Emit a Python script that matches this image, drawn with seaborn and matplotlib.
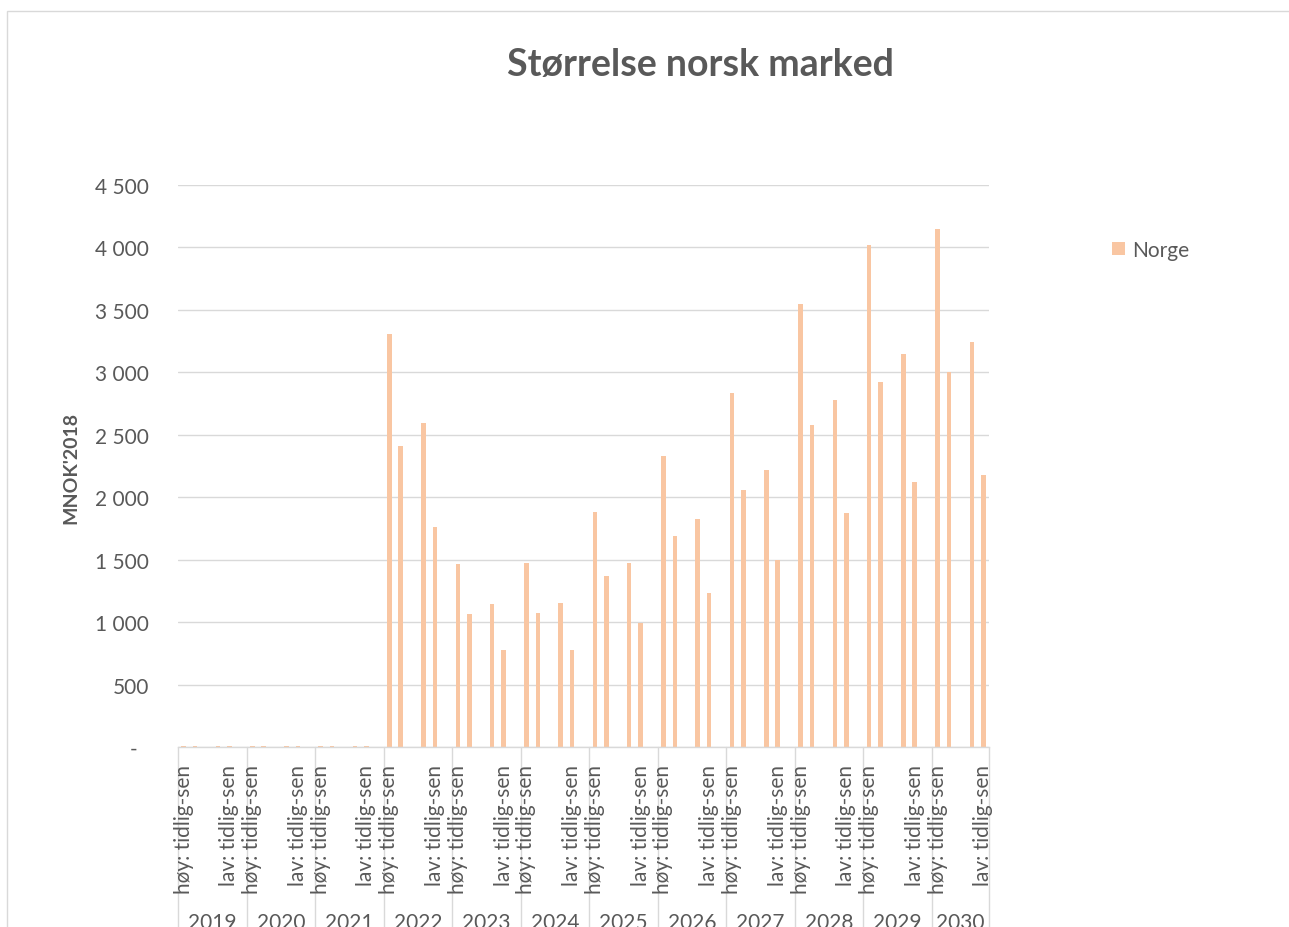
import matplotlib
matplotlib.use("Agg")
import matplotlib.pyplot as plt
from matplotlib.patches import Rectangle
from matplotlib.ticker import FuncFormatter
import numpy as np
import pandas as pd
import seaborn as sns

# Market size per year, MNOK (2018 kroner)
years = ["2019", "2020", "2021", "2022", "2023", "2024",
         "2025", "2026", "2027", "2028", "2029", "2030"]
hoy_tidlig = [8, 8, 8, 3310, 1465, 1470, 1885, 2330, 2835, 3545, 4020, 4145]
hoy_sen = [8, 8, 8, 2410, 1065, 1070, 1370, 1690, 2060, 2575, 2920, 3005]
lav_tidlig = [8, 8, 8, 2595, 1145, 1150, 1475, 1825, 2215, 2780, 3150, 3245]
lav_sen = [8, 8, 8, 1760, 775, 775, 995, 1230, 1500, 1875, 2125, 2180]
group_labels = ["høy: tidlig-sen", "lav: tidlig-sen"]
series_name = "Norge"

# Each year occupies six category slots (two scenario pairs plus spacers);
# the last year has no trailing spacer.
slots_per_year = 6
bar_slots = [0, 1, 3, 4]
label_slots = [0, 4]
n_slots = slots_per_year * len(years) - 1

rows = []
for i, yr in enumerate(years):
    vals = [hoy_tidlig[i], hoy_sen[i], lav_tidlig[i], lav_sen[i]]
    for s, v in zip(bar_slots, vals):
        rows.append({"pos": i * slots_per_year + s, "value": v, "year": yr})
df = pd.DataFrame(rows)

sns.set_theme(style="white")
plt.rcParams["font.family"] = ["Lato", "DejaVu Sans"]

W, H = 1289, 928
fig = plt.figure(figsize=(W / 100, H / 100), dpi=100)
ax = fig.add_axes([178 / W, 180 / H, (989 - 178) / W, (748 - 186) / H])

bar_color = "#F9C6A2"
grey_text = "#595959"
grid_col = "#D9D9D9"
fs = 15

sns.barplot(data=df, x="pos", y="value", native_scale=True, width=0.4,
            color=bar_color, saturation=1, label=series_name, ax=ax,
            linewidth=0, errorbar=None)
handles, labels = ax.get_legend_handles_labels()
if ax.get_legend() is not None:
    ax.get_legend().remove()

ax.set_xlim(-0.5, n_slots - 0.5)
ax.set_ylim(0, 4500)
ax.set_yticks(np.arange(0, 4501, 500))


def fmt(v, _):
    if v == 0:
        return "-  "
    return f"{int(v):,}".replace(",", " ")


ax.yaxis.set_major_formatter(FuncFormatter(fmt))
ax.tick_params(axis="y", length=0, pad=21, labelsize=fs, labelcolor=grey_text)
ax.yaxis.grid(True, color=grid_col, linewidth=1)
ax.set_axisbelow(True)
for side in ["top", "right", "left"]:
    ax.spines[side].set_visible(False)
ax.spines["bottom"].set_color(grid_col)
ax.spines["bottom"].set_linewidth(1)

# Scenario labels under each year
tick_pos, tick_lab = [], []
for i in range(len(years)):
    for s, lab in zip(label_slots, group_labels):
        tick_pos.append(i * slots_per_year + s)
        tick_lab.append(lab)
ax.set_xticks(tick_pos)
ax.set_xticklabels(tick_lab, rotation=90, ha="center", va="top")
ax.tick_params(axis="x", length=0, pad=12, labelsize=fs, labelcolor=grey_text)
ax.set_xlabel("")

# Year labels and separators
trans = matplotlib.transforms.blended_transform_factory(ax.transData, ax.transAxes)
bounds = [i * slots_per_year - 0.5 for i in range(len(years))] + [n_slots - 0.5]
for b in bounds:
    ax.plot([b, b], [0, -0.35], transform=trans, color=grid_col, lw=1,
            clip_on=False, zorder=0)
for i, yr in enumerate(years):
    cx = (bounds[i] + bounds[i + 1]) / 2
    ax.text(cx, -0.294, yr, transform=trans, ha="center", va="top",
            fontsize=fs, color=grey_text)

ax.set_ylabel("MNOK'2018", fontsize=14, fontweight="bold", color=grey_text)
ax.yaxis.label.set_va("center")
ax.yaxis.set_label_coords((71 - 178) / 811, 0.498)

fig.text(700 / W, 1 - 65 / H, "Størrelse norsk marked", ha="center",
         va="center", fontsize=27, fontweight="bold", color=grey_text)

fig.legend(handles, labels, loc="center left",
           bbox_to_anchor=(1112 / W, 1 - 251 / H), frameon=False,
           borderpad=0, borderaxespad=0,
           handlelength=0.6, handleheight=0.6, handletextpad=0.35,
           fontsize=fs, labelcolor=grey_text)

fig.add_artist(Rectangle((7 / W, -0.1), 1.2, 1 - 12 / H + 0.1,
                         transform=fig.transFigure, fill=False,
                         edgecolor=grid_col, linewidth=1))

fig.savefig("out.png", dpi=100, facecolor="white")
